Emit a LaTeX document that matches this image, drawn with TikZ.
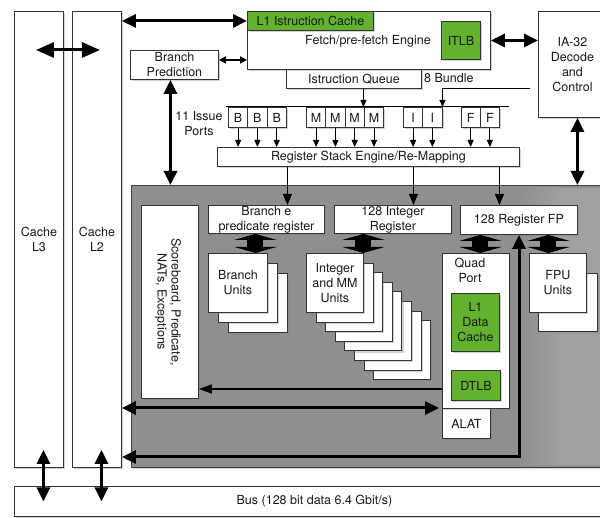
\documentclass[tikz,border=0pt]{standalone}
\usepackage{fontspec}
\setmainfont{TeX Gyre Heros}
\usetikzlibrary{arrows.meta,shadows,calc}
\definecolor{chipgreen}{RGB}{98,178,48}
\definecolor{coregray}{RGB}{143,143,143}
\definecolor{palegray}{RGB}{160,160,160}
\begin{document}
\begin{tikzpicture}[x=1pt,y=-1pt,
  every node/.style={font=\fontsize{12.5}{15}\selectfont, text=black!90},
  blk/.style={draw=black!80, fill=white, line width=0.9pt, anchor=north west,
    inner sep=0pt, align=center,
    drop shadow={shadow xshift=1.8pt, shadow yshift=-1.8pt, opacity=0.35}},
  grn/.style={blk, fill=chipgreen},
  lbl/.style={inner sep=0pt, align=center},
  bigdbl/.style={line width=3pt, {Triangle[width=15pt,length=18pt]}-{Triangle[width=15pt,length=18pt]}},
  dbl/.style={line width=3pt, {Triangle[width=13pt,length=14pt]}-{Triangle[width=13pt,length=14pt]}},
  smalldbl/.style={line width=1.5pt, {Triangle[width=7pt,length=7pt]}-{Triangle[width=7pt,length=7pt]}},
  portarr/.style={line width=0.9pt, -{Triangle[width=6pt,length=7pt]}},
  downarr/.style={line width=1.2pt, -{Triangle[width=9pt,length=11pt]}},
  midarr/.style={line width=1.5pt, -{Triangle[width=9pt,length=13pt]}},
  fatdbl/.style={line width=16pt, {Triangle[width=42pt,length=6pt]}-{Triangle[width=42pt,length=6pt]}},
]
\useasboundingbox (0,0) rectangle (600,518);
\fill[white] (0,0) rectangle (600,518);

% caches and bus
\node[blk, minimum width=49, minimum height=456] (L3) at (14,11) {Cache\\L3};
\node[blk, minimum width=49, minimum height=456] (L2) at (72,11) {Cache\\L2};
\node[blk, minimum width=600, minimum height=30] (bus) at (14,486) {Bus (128 bit data 6.4 Gbit/s)};

% front end
\node[blk, minimum width=135, minimum height=19] (queue) at (286,69) {Istruction Queue};
\node[blk, minimum width=243, minimum height=58] (fetch) at (247,11) {};
\node[grn, minimum width=126, minimum height=19] (l1i) at (247,11) {L1 Istruction Cache};
\node[lbl] (fetchtxt) at (368,41) {Fetch/pre-fetch Engine};
\node[grn, minimum width=39, minimum height=38] (itlb) at (441,21) {ITLB};
\node[lbl, anchor=west] (bundle) at (424,78) {8 Bundle};
\node[blk, minimum width=68, minimum height=106] (ia32) at (538,11) {IA-32\\Decode\\and\\Control};
\node[blk, minimum width=88, minimum height=29] (bp) at (130,50) {Branch\\Prediction};
\node[lbl] (issue) at (199,124) {11 Issue\\Ports};

% issue ports
\coordinate (busL) at (226,107);
\coordinate (busR) at (509,107);
\draw[line width=1pt] (busL) -- (busR);
\foreach \nm/\x/\t in {B1/228/B,B2/247.3/B,B3/266.6/B,M1/306/M,M2/325.3/M,M3/344.6/M,M4/363.9/M,I1/403/I,I2/422.3/I,F1/460.5/F,F2/479.8/F}
  \node[blk, minimum width=19.3, minimum height=20] (\nm) at (\x,107) {\t};
\node[blk, minimum width=302, minimum height=19] (rse) at (217,147) {Register Stack Engine/Re-Mapping};
\foreach \nm in {B1,B2,B3,M1,M2,M3,M4,I1,I2,F1,F2}
  \draw[portarr] (\nm.south) -- (\nm.south |- rse.north);
\coordinate (qout) at ($(queue.south)+(9.5,0)$);
\draw[portarr] (qout) -- (qout |- busL);
\coordinate (bundlein) at (530,88);
\draw[portarr] (bundlein) -| (I2.north east);

% execution core
\node[blk, fill=coregray, draw=black!75, minimum width=480, minimum height=282] (core) at (131,185) {};
\shade[left color=coregray, right color=palegray] (521,188) rectangle (560,465);
\fill[palegray] (560,188) rectangle (600,465);
\node[blk, minimum width=57, minimum height=193] (sb) at (141,205) {};
\node[lbl, rotate=-90, font=\fontsize{12.5}{14}\selectfont] (sbtxt) at ($(sb.center)+(-2,0)$) {Scoreboard, Predicate,\\NATs, Exceptions};
\node[blk, minimum width=116, minimum height=28] (brreg) at (208,205) {Branch e\\predicate register};
\node[blk, minimum width=117, minimum height=28] (intreg) at (334,205) {128 Integer\\Register};
\node[blk, minimum width=117, minimum height=29] (fpreg) at (460,205) {128 Register FP};

% branch units
\node[blk, minimum width=59, minimum height=59] (bu3) at (228,273) {};
\node[blk, minimum width=59, minimum height=59] (bu2) at (218,263) {};
\node[blk, minimum width=59, minimum height=59] (bu1) at (208,253) {Branch\\Units};
% integer and MM units
\foreach \k in {7,6,...,1}
  \node[blk, minimum width=57, minimum height=59] (iu\k) at ({306+9.6*\k},{253+9.6*\k}) {};
\node[blk, minimum width=57, minimum height=59] (iu0) at (306,253) {Integer\\and MM\\Units};
% FPU units
\node[blk, minimum width=59, minimum height=58] (fpu2) at (538,273) {};
\node[blk, minimum width=57, minimum height=59] (fpu1) at (529,253) {FPU\\Units};
% quad port
\node[blk, minimum width=48, minimum height=30] (alat) at (442,408) {ALAT};
\node[blk, minimum width=67, minimum height=155] (qp) at (442,253) {};
\node[lbl] (qptxt) at (470,270) {Quad\\Port};
\node[grn, minimum width=48, minimum height=58] (l1d) at (451,293) {L1\\Data\\Cache};
\node[grn, minimum width=49, minimum height=30] (dtlb) at (451,370) {DTLB};

% register stack outputs
\foreach \nm/\dx in {brreg/21,intreg/20.5,fpreg/-19.5}{
  \coordinate (rin) at ($(\nm.north)+(\dx,0)$);
  \draw[downarr] (rin |- rse.south) -- (rin);
}
% register <-> unit ports
\coordinate (fa) at ($(brreg.south)+(-11,0)$);
\draw[fatdbl] (fa) -- (fa |- bu1.north);
\coordinate (fb) at ($(intreg.south)+(-29.5,0)$);
\draw[fatdbl] (fb) -- (fb |- iu0.north);
\coordinate (fc) at ($(fpreg.south)+(-38.5,0)$);
\draw[fatdbl] (fc) -- (fc |- qp.north);
\coordinate (fd) at ($(fpreg.south)+(29.5,0)$);
\draw[fatdbl] (fd) -- (fd |- fpu1.north);

% memory paths
\coordinate (qpL) at ($(qp.north west)+(0,136)$);
\draw[midarr] (qpL) -- (qpL -| sb.east);
\draw[dbl] (alat.north west -| L2.east) -- ($(alat.north west)+(-3,0)$);
\coordinate (fpret) at (519,457);
\draw[dbl] (L2.east |- fpret) -- (fpret) -- (fpret |- fpreg.south);

% top-level connections
\draw[bigdbl] ($(L3.north)+(-3,39)$) -- ($(L2.north)+(3,39)$);
\draw[dbl] (L2.east |- l1i.west) -- (l1i.west);
\draw[dbl] (itlb.east -| fetch.east) -- (itlb.east -| ia32.west);
\coordinate (bpr) at ($(bp.east)+(0,-5)$);
\draw[smalldbl] (bpr) -- (bpr -| fetch.west);
\coordinate (bpd) at ($(bp.south)+(-4,0)$);
\draw[dbl] (bpd) -- (bpd |- core.north);
\coordinate (iad) at ($(ia32.south)+(5,0)$);
\draw[dbl] (iad) -- (iad |- core.north);

% bus connections
\coordinate (l3b) at ($(L3.south)+(4.5,-18)$);
\draw[dbl] (l3b) -- (l3b |- bus.center);
\coordinate (l2b) at ($(L2.south)+(4.5,-18)$);
\draw[dbl] (l2b) -- (l2b |- bus.center);
\end{tikzpicture}
\end{document}
